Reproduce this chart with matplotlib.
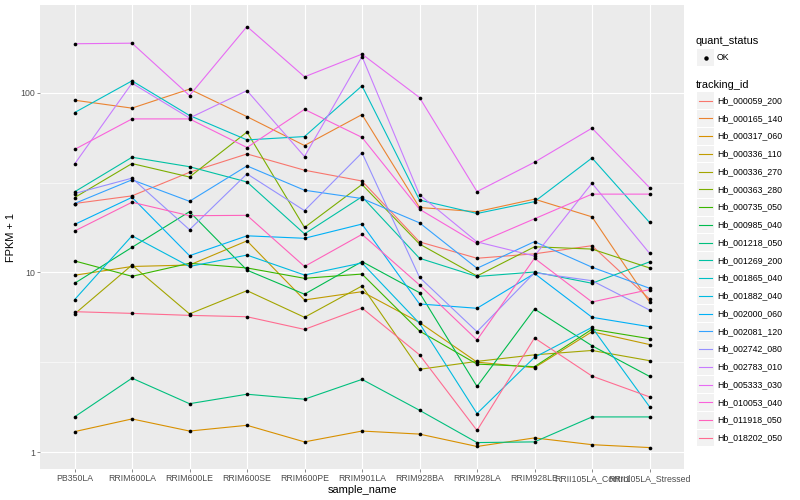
import numpy as np
import matplotlib
matplotlib.use("Agg")
import matplotlib.pyplot as plt
from matplotlib.patches import Rectangle
from matplotlib.ticker import NullFormatter

plt.rcParams['font.family'] = ['Liberation Sans', 'DejaVu Sans']

# ---------------------------------------------------------------------------
# Data (FPKM + 1)
# ---------------------------------------------------------------------------
samples = ["PB350LA", "RRIM600LA", "RRIM600LE", "RRIM600SE", "RRIM600PE",
           "RRIM901LA", "RRIM928BA", "RRIM928LA", "RRIM928LE",
           "RRII105LA_Control", "RRII105LA_Stressed"]

tracking_ids = ["Hb_000059_200", "Hb_000165_140", "Hb_000317_060", "Hb_000336_110",
                "Hb_000336_270", "Hb_000363_280", "Hb_000735_050", "Hb_000985_040",
                "Hb_001218_050", "Hb_001269_200", "Hb_001865_040", "Hb_001882_040",
                "Hb_002000_060", "Hb_002081_120", "Hb_002742_080", "Hb_002783_010",
                "Hb_005333_030", "Hb_010053_040", "Hb_011918_050", "Hb_018202_050"]

hb_000059_200 = [24.2, 26.7, 36.1, 45.7, 37.1, 32.3, 14.8, 12.0, 12.7, 14.1, 7.12]
hb_000165_140 = [91.0, 82.2, 104.9, 73.7, 50.9, 75.7, 23.0, 21.8, 25.6, 20.4, 6.85]
hb_000317_060 = [1.30, 1.53, 1.31, 1.41, 1.14, 1.31, 1.26, 1.075, 1.20, 1.10, 1.06]
hb_000336_110 = [9.65, 10.8, 11.0, 15.0, 7.03, 7.82, 5.27, 3.17, 2.95, 4.68, 3.97]
hb_000336_270 = [5.87, 11.0, 5.88, 7.92, 5.63, 8.41, 2.89, 3.20, 3.48, 3.68, 3.23]
hb_000363_280 = [26.1, 40.4, 34.0, 60.5, 17.8, 30.9, 14.4, 9.56, 13.9, 13.5, 10.6]
hb_000735_050 = [11.6, 9.52, 11.25, 10.6, 9.28, 9.8, 4.72, 3.09, 2.99, 4.83, 4.28]
hb_000985_040 = [8.7, 13.8, 21.8, 10.3, 7.57, 11.5, 7.72, 2.32, 6.26, 3.91, 2.64]
hb_001218_050 = [1.57, 2.58, 1.86, 2.10, 1.97, 2.54, 1.71, 1.13, 1.14, 1.57, 1.57]
hb_001269_200 = [28.1, 43.8, 38.8, 31.9, 16.4, 26.4, 12.0, 9.5, 10.06, 8.71, 11.45]
hb_001865_040 = [77.6, 116.6, 74.8, 54.7, 57.1, 109.4, 25.3, 21.3, 24.8, 43.4, 19.0]
hb_001882_040 = [7.05, 16.0, 10.8, 12.5, 9.68, 11.3, 5.21, 1.64, 3.37, 4.95, 1.79]
hb_002000_060 = [18.5, 26.2, 12.4, 16.0, 15.5, 18.6, 6.68, 6.32, 9.87, 5.63, 4.99]
hb_002081_120 = [24.2, 32.8, 24.9, 39.2, 28.7, 25.8, 18.9, 10.55, 14.85, 10.7, 8.17]
hb_002742_080 = [27.5, 33.5, 17.3, 35.4, 22.1, 46.4, 9.4, 4.68, 9.97, 9.0, 6.18]
hb_002783_010 = [40.1, 113.2, 72.4, 102.9, 44.2, 159.3, 27.1, 14.8, 12.36, 31.4, 12.8]
hb_005333_030 = [187.6, 189.0, 96.6, 234.0, 122.8, 164.3, 94.2, 28.2, 41.1, 63.6, 29.7]
hb_010053_040 = [48.4, 71.6, 71.6, 49.6, 80.9, 56.5, 22.5, 14.5, 19.9, 27.3, 27.3]
hb_011918_050 = [17.0, 24.6, 20.7, 20.8, 10.8, 16.3, 8.52, 4.21, 12.0, 6.85, 8.03]
hb_018202_050 = [6.05, 5.92, 5.77, 5.67, 4.82, 6.34, 3.48, 1.32, 4.32, 2.65, 2.03]

series = [hb_000059_200, hb_000165_140, hb_000317_060, hb_000336_110, hb_000336_270,
          hb_000363_280, hb_000735_050, hb_000985_040, hb_001218_050, hb_001269_200,
          hb_001865_040, hb_001882_040, hb_002000_060, hb_002081_120, hb_002742_080,
          hb_002783_010, hb_005333_030, hb_010053_040, hb_011918_050, hb_018202_050]

# ggplot2 default hue palette, 20 levels
palette = ['#F8766D', '#EA8331', '#D89000', '#C09B00', '#A3A500', '#7CAE00',
           '#39B600', '#00BB4E', '#00BF7D', '#00C1A3', '#00BFC4', '#00BAE0',
           '#00B0F6', '#35A2FF', '#9590FF', '#C77CFF', '#E76BF3', '#FA62DB',
           '#FF62BC', '#FF6C91']

# ---------------------------------------------------------------------------
# Plot
# ---------------------------------------------------------------------------
W, H = 800, 500
fig = plt.figure(figsize=(W / 100, H / 100), dpi=100)
ax = fig.add_axes([40 / W, 1 - 469 / H, (684 - 40) / W, (469 - 5) / H])
ax.set_facecolor('#EBEBEB')

x = np.arange(1, len(samples) + 1)
for vals, col in zip(series, palette):
    ax.plot(x, vals, color=col, lw=0.8, zorder=3, solid_capstyle='butt')
for vals in series:
    ax.scatter(x, vals, s=7, color='black', linewidths=0, zorder=4)

ax.set_yscale('log')
ax.set_xlim(0.4, len(samples) + 0.6)
ax.set_ylim(10 ** -0.094, 10 ** 2.489)
ax.set_yticks([1, 10, 100])
ax.set_yticklabels(['1', '10', '100'])
ax.set_yticks([10 ** 0.5, 10 ** 1.5], minor=True)
ax.yaxis.set_minor_formatter(NullFormatter())
ax.set_xticks(x)
ax.set_xticklabels(samples)
ax.tick_params(which='major', length=2, width=0.4, color='#333333',
               labelsize=6.3, labelcolor='#4D4D4D', pad=1.6)
ax.tick_params(which='minor', length=0)
ax.grid(which='major', color='white', lw=0.8)
ax.grid(which='minor', axis='y', color='white', lw=0.4)
ax.set_axisbelow(True)
for s in ax.spines.values():
    s.set_visible(False)
ax.set_xlabel('sample_name', fontsize=7.9, labelpad=1.5)
ax.set_ylabel('FPKM + 1', fontsize=7.9, labelpad=3)

# ---------------------------------------------------------------------------
# Legends (drawn in pixel space)
# ---------------------------------------------------------------------------
lax = fig.add_axes([0, 0, 1, 1])
lax.set_xlim(0, W)
lax.set_ylim(H, 0)
lax.axis('off')

kx, kw = 697, 17
tx = 717
lax.text(696, 40.7, 'quant_status', fontsize=7.9, va='center', ha='left')
lax.add_patch(Rectangle((kx, 49), kw, kw, color='#F2F2F2', lw=0))
lax.plot([kx + kw / 2], [57.5], 'o', color='black', ms=2.2)
lax.text(tx, 57.5, 'OK', fontsize=6.3, va='center', ha='left')

lax.text(696, 84.5, 'tracking_id', fontsize=7.9, va='center', ha='left')
step = 17.75
for i, (name, col) in enumerate(zip(tracking_ids, palette)):
    yc = 100.7 + i * step
    lax.add_patch(Rectangle((kx, yc - 8.4), kw, 16.8, color='#F2F2F2', lw=0))
    lax.plot([kx + 1.7, kx + kw - 1.7], [yc, yc], color=col, lw=0.8)
    lax.text(tx, yc, name, fontsize=6.3, va='center', ha='left')

fig.savefig('out.png', dpi=100)
